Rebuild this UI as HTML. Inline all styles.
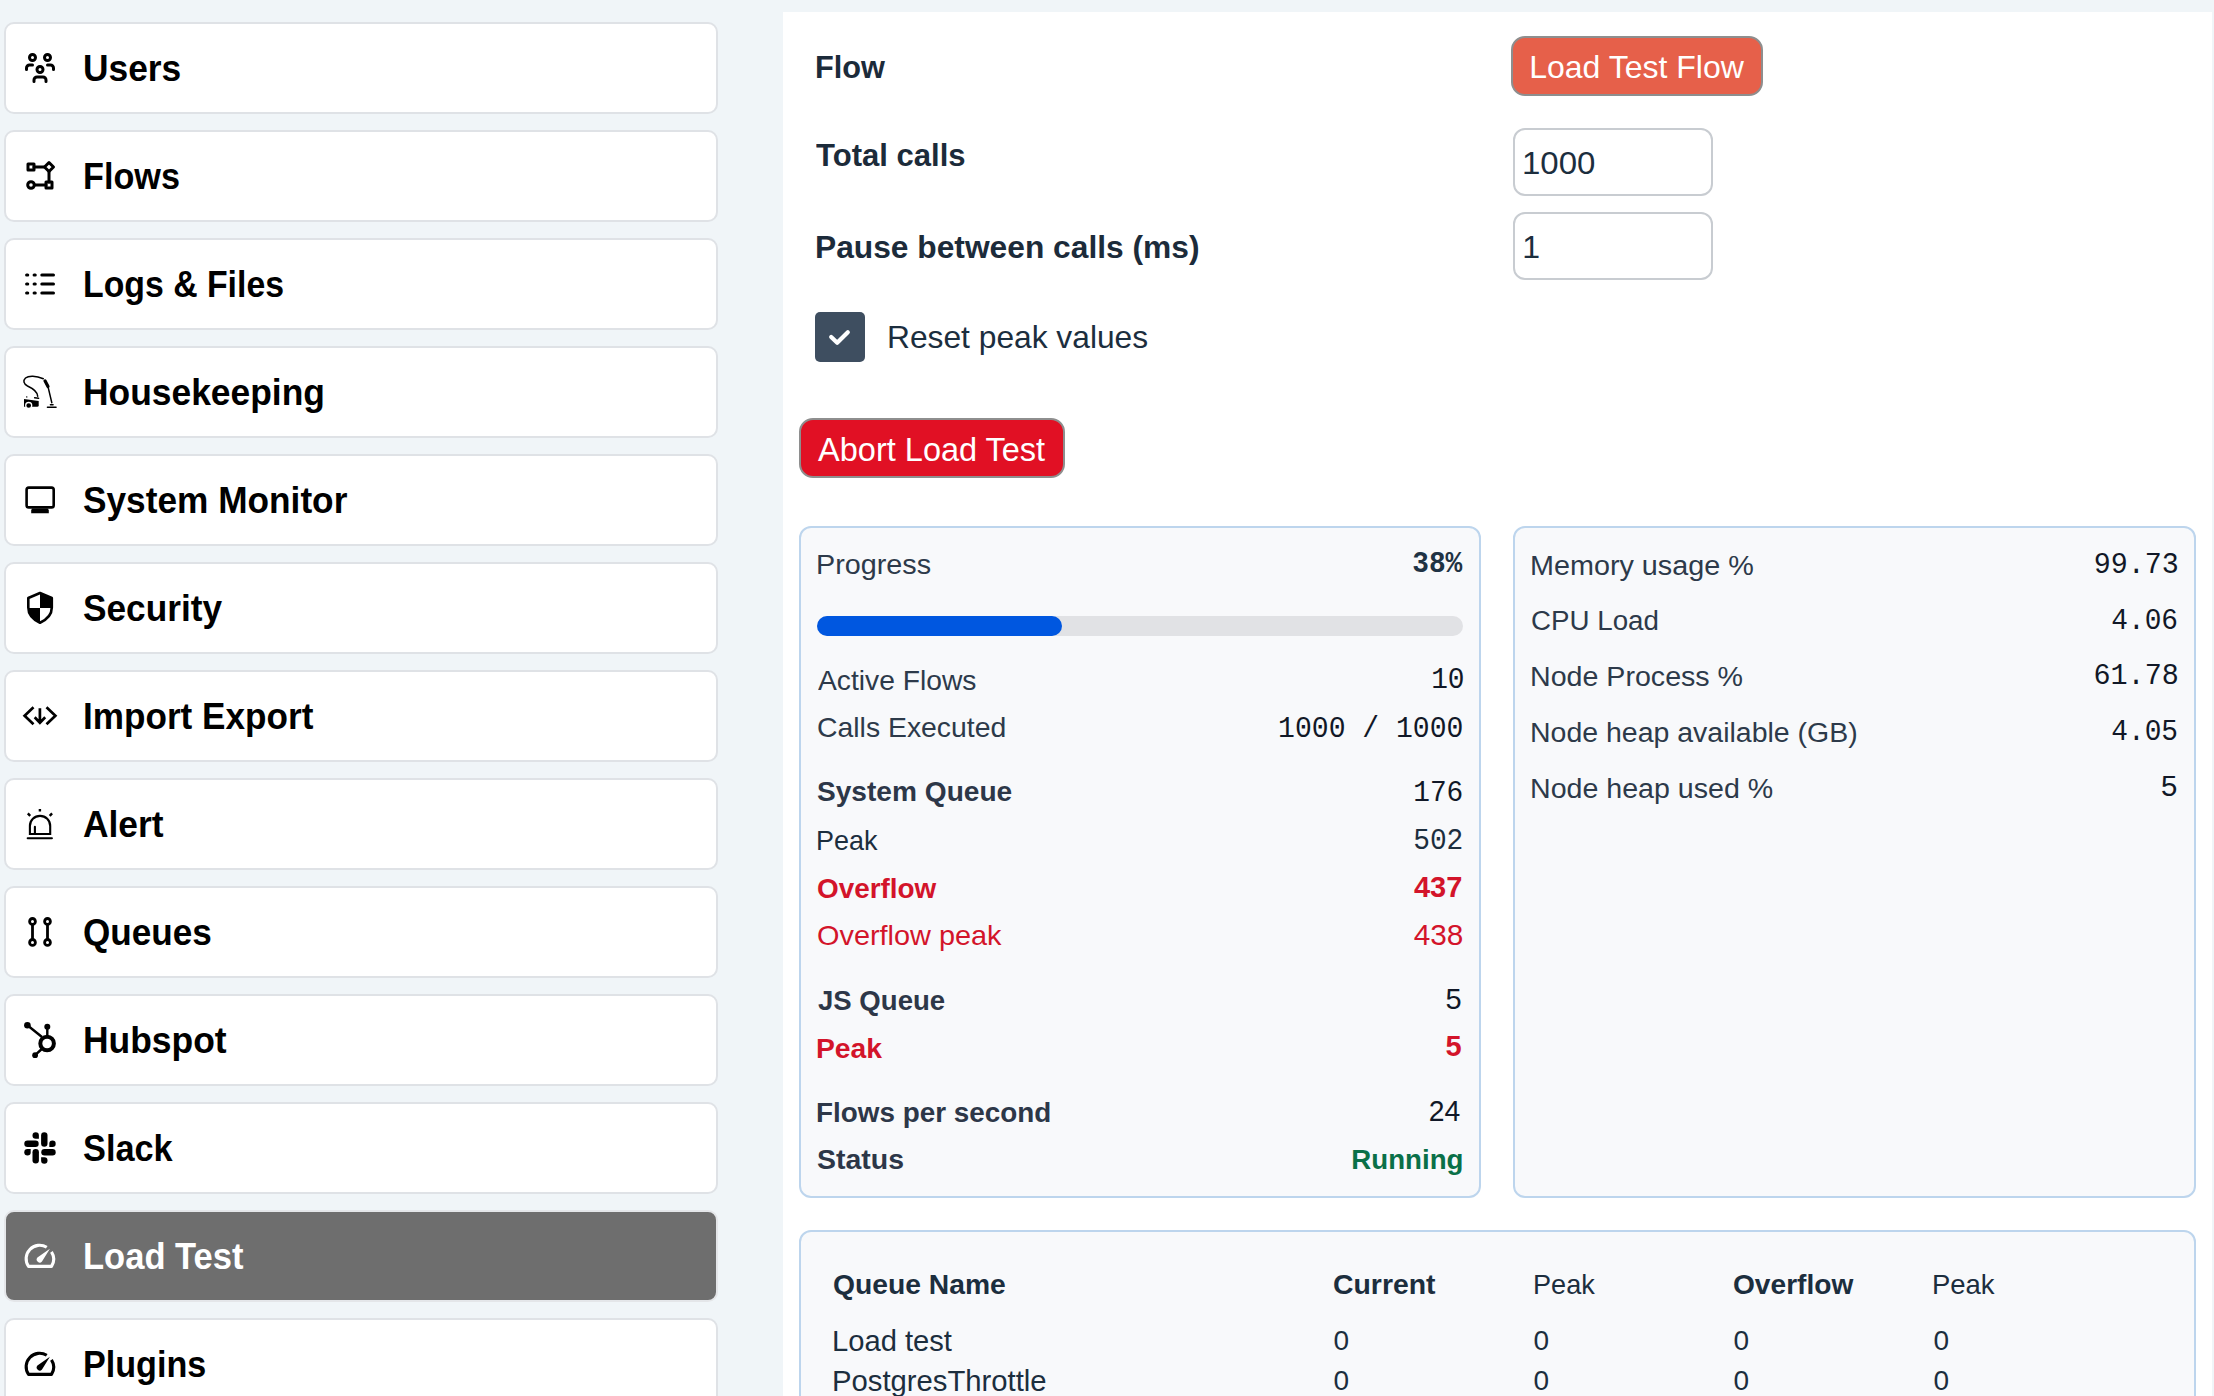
<!DOCTYPE html>
<html><head><meta charset="utf-8">
<style>
*{box-sizing:border-box;margin:0;padding:0}
html,body{width:2214px;height:1396px;overflow:hidden;background:#f0f5f8;font-family:"Liberation Sans",sans-serif}
.card{position:absolute;left:4px;width:714px;height:92px;background:#fff;border:2px solid #dfe2e6;border-radius:10px}
.card.active{background:#6e6e6e;border-color:#e4e6e9}
.card svg{position:absolute;left:10px;top:20px;width:48px;height:48px}
.card .t{position:absolute;left:77px;top:27px;height:36px;line-height:36px;font-size:36px;transform-origin:0 0;font-weight:bold;color:#000;white-space:nowrap}
.card.active .t{color:#fff}
.main{position:absolute;left:783px;top:12px;width:1429px;height:1384px;background:#fff}
.a{position:absolute;white-space:nowrap}
</style></head><body>
<!-- SIDEBAR -->
<div class="card" style="top:22px"><svg viewBox="0 0 48 48"><g fill="none" stroke="#000" stroke-width="3" stroke-linecap="round" stroke-linejoin="round"><circle cx="24" cy="25.5" r="3"/><path d="M18 37.5v-1.5a3 3 0 0 1 3-3h6a3 3 0 0 1 3 3v1.5"/><circle cx="31.5" cy="13.5" r="3"/><path d="M31.5 21h3a3 3 0 0 1 3 3v1.5"/><circle cx="16.5" cy="13.5" r="3"/><path d="M10.5 25.5v-1.5a3 3 0 0 1 3-3h3"/></g></svg><div class="t" style="transform:scaleX(0.982)">Users</div></div>
<div class="card" style="top:130px"><svg viewBox="0 0 48 48"><g transform="translate(6 6) scale(1.5)" fill="none" stroke="#000" stroke-width="2" stroke-linecap="round" stroke-linejoin="round"><rect x="4" y="4" width="4" height="4"/><path d="M18 3l3 3l-3 3l-3-3z"/><circle cx="6" cy="18" r="2.2"/><rect x="16" y="16" width="4" height="4"/><path d="M8 6h7M18 9v7M8.2 18h7.8"/></g></svg><div class="t" style="transform:scaleX(0.950)">Flows</div></div>
<div class="card" style="top:238px"><svg viewBox="0 0 48 48"><g transform="translate(6 6) scale(1.5)" fill="none" stroke="#000" stroke-width="2" stroke-linecap="round"><path d="M3.05 6h.8M8.05 6h.8M13.2 6H21M3.05 12h.8M8.05 12h.8M13.2 12H21M3.05 18h.8M8.05 18h.8M13.2 18H21"/></g></svg><div class="t" style="transform:scaleX(0.939)">Logs &amp; Files</div></div>
<div class="card" style="top:346px"><svg viewBox="0 0 48 48"><g fill="none" stroke="#000" stroke-linecap="round" stroke-linejoin="round"><path d="M21.7 28.2C21.5 24 18 21 11.5 18C7.5 16 6.8 12.5 9.5 10C12.5 7.5 20 7.5 27.3 10.8" stroke-width="1.5"/><path d="M29 12.8L32 18.6" stroke-width="3.2"/><path d="M32.4 20.3L35.8 34.7" stroke-width="1.5"/><path d="M34.4 36.8h2.7M31.4 39.2h8.7" stroke-width="1.4"/><path d="M10.7 28.9h.1M18.6 29.8L22.6 30.3" stroke-width="1.4"/></g><path d="M8 31L22.7 33V37.3Q22.7 38.8 21.2 38.8H8Z" fill="#000"/><circle cx="12.7" cy="37.5" r="3" fill="#000" stroke="#fff" stroke-width="1.3"/></svg><div class="t" style="transform:scaleX(0.983)">Housekeeping</div></div>
<div class="card" style="top:454px"><svg viewBox="0 0 48 48"><rect x="10.6" y="11.6" width="27.1" height="19.8" rx="2.2" fill="none" stroke="#000" stroke-width="2.6"/><path d="M16.2 32.6H31.6L32.8 34V37.3H15.2V34Z" fill="#000"/></svg><div class="t" style="transform:scaleX(0.979)">System Monitor</div></div>
<div class="card" style="top:562px"><svg viewBox="0 0 48 48"><path d="M24 9L12.3 14V23.5C12.3 30 17 35.5 24 38.7C31 35.5 35.8 30 35.8 23.5V14Z" fill="none" stroke="#000" stroke-width="2.6" stroke-linejoin="round"/><path d="M24 9L35.8 14V23.9H24Z M12.3 23.9H24V38.7C17 35.5 12.3 30 12.3 23.9Z" fill="#000"/></svg><div class="t" style="transform:scaleX(0.979)">Security</div></div>
<div class="card" style="top:670px"><svg viewBox="0 0 48 48"><g fill="none" stroke="#000" stroke-width="2.7" stroke-linejoin="miter"><path d="M17.5 15.3L8.6 23.7L17.5 32.2M30.5 15.3L39.4 23.7L30.5 32.2"/><path d="M23.9 16.2V30.5M18.7 25.3L23.9 30.8L29.2 25.3"/></g></svg><div class="t" style="transform:scaleX(0.976)">Import Export</div></div>
<div class="card" style="top:778px"><svg viewBox="0 0 48 48"><g fill="none" stroke="#000" stroke-width="2.1"><path d="M13.9 34V26A10.15 10.15 0 0 1 34.2 26V34Z"/><path d="M18.9 26.7V34M11.7 38.3H35.9" stroke-linecap="round"/><path d="M23.9 8.9V11.5M11.8 13.4L14.2 15.8M36.1 13.4L33.7 15.8" stroke-width="2.4"/></g></svg><div class="t" style="transform:scaleX(0.982)">Alert</div></div>
<div class="card" style="top:886px"><svg viewBox="0 0 48 48"><g fill="none" stroke="#000" stroke-width="2.8"><circle cx="16.5" cy="13.4" r="2.9"/><circle cx="16.5" cy="34.4" r="2.9"/><circle cx="31.5" cy="13.4" r="2.9"/><circle cx="31.5" cy="34.4" r="2.9"/><path d="M16.5 16.3V31.5M31.5 16.3V31.5"/></g></svg><div class="t" style="transform:scaleX(0.976)">Queues</div></div>
<div class="card" style="top:994px"><svg viewBox="0 0 48 48"><g fill="#000"><circle cx="31.1" cy="27.5" r="6.8" fill="none" stroke="#000" stroke-width="4"/><circle cx="31.3" cy="10.8" r="3"/><circle cx="11.4" cy="9.3" r="3.3"/><circle cx="19.1" cy="39.2" r="2.9"/><path d="M31.3 11V21M11.4 9.3L26 21M19.1 39.2L25.8 33" stroke="#000" stroke-width="2.4"/></g></svg><div class="t" style="transform:scaleX(0.984)">Hubspot</div></div>
<div class="card" style="top:1102px"><svg viewBox="0 0 48 48"><g fill="#000"><rect x="25.1" y="8.3" width="6.4" height="14.4" rx="3.2"/><rect x="8.3" y="16.5" width="14.4" height="6.4" rx="3.2"/><rect x="16.5" y="25.1" width="6.4" height="14.4" rx="3.2"/><rect x="25.3" y="25.1" width="14.4" height="6.4" rx="3.2"/><path d="M22.9 14.7H19.7A3.2 3.2 0 1 1 22.9 11.5Z"/><path d="M33.3 22.9V19.7A3.2 3.2 0 1 1 36.5 22.9Z"/><path d="M14.7 25.1V28.3A3.2 3.2 0 1 1 11.5 25.1Z"/><path d="M25.1 33.3H28.3A3.2 3.2 0 1 1 25.1 36.5Z"/></g></svg><div class="t" style="transform:scaleX(0.953)">Slack</div></div>
<div class="card active" style="top:1210px"><svg viewBox="0 0 48 48"><g fill="none" stroke="#fff" stroke-width="3.1" stroke-linejoin="round"><path d="M30.75 15.3A13.5 13.5 0 0 0 12.5 34.4H35.5A13.5 13.5 0 0 0 35.45 19.85"/></g><path d="M21.4 25.6L33.9 16.8L26 29.4A2.8 2.8 0 0 1 21.4 25.6Z" fill="#fff"/></svg><div class="t" style="transform:scaleX(0.959)">Load Test</div></div>
<div class="card" style="top:1318px"><svg viewBox="0 0 48 48"><g fill="none" stroke="#000" stroke-width="3.1" stroke-linejoin="round"><path d="M30.75 15.3A13.5 13.5 0 0 0 12.5 34.4H35.5A13.5 13.5 0 0 0 35.45 19.85"/></g><path d="M21.4 25.6L33.9 16.8L26 29.4A2.8 2.8 0 0 1 21.4 25.6Z" fill="#000"/></svg><div class="t" style="transform:scaleX(0.948)">Plugins</div></div>

<!-- MAIN -->
<div class="main"></div>
<div class="a" style="left:815.3px;top:52px;font:bold 31.5px/31.5px 'Liberation Sans',sans-serif;color:#1c2b3a;transform:scaleX(0.9744);transform-origin:0 0">Flow</div>
<div class="a" style="left:816.1px;top:140px;font:bold 31.5px/31.5px 'Liberation Sans',sans-serif;color:#1c2b3a;transform:scaleX(0.9861);transform-origin:0 0">Total calls</div>
<div class="a" style="left:815.0px;top:232px;font:bold 31.5px/31.5px 'Liberation Sans',sans-serif;color:#1c2b3a;transform:scaleX(1.0075);transform-origin:0 0">Pause between calls (ms)</div>
<div class="a" style="left:1511px;top:36px;width:252px;height:60px;background:#e6604a;border:2px solid #8e8e8e;border-radius:14px;box-sizing:border-box"></div>
<div class="a" style="left:1529.2px;top:51px;font:32px/32px 'Liberation Sans',sans-serif;color:#fff">Load Test Flow</div>
<div class="a" style="left:1513px;top:128px;width:200px;height:68px;background:#fff;border:2px solid #c8ccd1;border-radius:12px;box-sizing:border-box"></div>
<div class="a" style="left:1522.2px;top:147px;font:32px/32px 'Liberation Sans',sans-serif;color:#1c2e3e;transform:scaleX(1.0310);transform-origin:0 0">1000</div>
<div class="a" style="left:1513px;top:212px;width:200px;height:68px;background:#fff;border:2px solid #c8ccd1;border-radius:12px;box-sizing:border-box"></div>
<div class="a" style="left:1522.2px;top:231px;font:32px/32px 'Liberation Sans',sans-serif;color:#1c2e3e">1</div>
<div class="a" style="left:815px;top:312px;width:50px;height:50px;background:#3e4e60;border-radius:5px"></div>
<svg class="a" style="left:815px;top:312px" width="50" height="50" viewBox="0 0 50 50"><path d="M16.2 25L22.2 30.8L32.8 20.2" fill="none" stroke="#fff" stroke-width="4.2" stroke-linecap="round" stroke-linejoin="round"/></svg>
<div class="a" style="left:887.4px;top:321px;font:32px/32px 'Liberation Sans',sans-serif;color:#1c2e3e;transform:scaleX(0.9918);transform-origin:0 0">Reset peak values</div>
<div class="a" style="left:799px;top:418px;width:266px;height:60px;background:#e11024;border:2px solid #8e8e8e;border-radius:14px;box-sizing:border-box"></div>
<div class="a" style="left:818.1px;top:434px;font:32.5px/32.5px 'Liberation Sans',sans-serif;color:#fff">Abort Load Test</div>
<div class="a" style="left:799px;top:526px;width:682px;height:672px;background:#f8f9fb;border:2px solid #bdd5ed;border-radius:12px;box-sizing:border-box"></div>
<div class="a" style="left:1513px;top:526px;width:683px;height:672px;background:#f8f9fb;border:2px solid #bdd5ed;border-radius:12px;box-sizing:border-box"></div>
<div class="a" style="left:799px;top:1230px;width:1397px;height:270px;background:#f8f9fb;border:2px solid #bdd5ed;border-radius:12px;box-sizing:border-box"></div>
<div class="a" style="left:816.1px;top:551px;font:28px/28px 'Liberation Sans',sans-serif;color:#2d3a4a;transform:scaleX(1.0275);transform-origin:0 0">Progress</div>
<div class="a" style="right:751.9px;top:550px;font:bold 29.6px/29.6px 'Liberation Mono',monospace;color:#1f3344;transform:scaleX(0.9400);transform-origin:100% 0">38%</div>
<div class="a" style="left:817px;top:616px;width:646px;height:20px;background:#e1e2e5;border-radius:10px"></div>
<div class="a" style="left:817px;top:616px;width:245px;height:20px;background:#0057e0;border-radius:10px"></div>
<div class="a" style="left:818.1px;top:667px;font:28px/28px 'Liberation Sans',sans-serif;color:#2d3a4a;transform:scaleX(1.0085);transform-origin:0 0">Active Flows</div>
<div class="a" style="right:749.5px;top:666px;font:29.6px/29.6px 'Liberation Mono',monospace;color:#111827;transform:scaleX(0.9400);transform-origin:100% 0">10</div>
<div class="a" style="left:817.1px;top:714px;font:28px/28px 'Liberation Sans',sans-serif;color:#2d3a4a;transform:scaleX(1.0136);transform-origin:0 0">Calls Executed</div>
<div class="a" style="right:750.5px;top:715px;font:29.6px/29.6px 'Liberation Mono',monospace;color:#111827;transform:scaleX(0.9482);transform-origin:100% 0">1000 / 1000</div>
<div class="a" style="left:817.1px;top:778px;font:bold 27.5px/27.5px 'Liberation Sans',sans-serif;color:#2d3748;transform:scaleX(1.0218);transform-origin:0 0">System Queue</div>
<div class="a" style="right:750.8px;top:779px;font:29.6px/29.6px 'Liberation Mono',monospace;color:#111827;transform:scaleX(0.9400);transform-origin:100% 0">176</div>
<div class="a" style="left:816.1px;top:827px;font:28px/28px 'Liberation Sans',sans-serif;color:#1c2e3e;transform:scaleX(0.9630);transform-origin:0 0">Peak</div>
<div class="a" style="right:750.8px;top:827px;font:29.6px/29.6px 'Liberation Mono',monospace;color:#1c2e3e;transform:scaleX(0.9400);transform-origin:100% 0">502</div>
<div class="a" style="left:817.1px;top:875px;font:bold 27.5px/27.5px 'Liberation Sans',sans-serif;color:#d3142a;transform:scaleX(1.0138);transform-origin:0 0">Overflow</div>
<div class="a" style="right:751.7px;top:873px;font:bold 29px/29px 'Liberation Sans',sans-serif;color:#d3142a">437</div>
<div class="a" style="left:817.1px;top:922px;font:28px/28px 'Liberation Sans',sans-serif;color:#d3142a;transform:scaleX(1.0309);transform-origin:0 0">Overflow peak</div>
<div class="a" style="right:751.0px;top:921px;font:29px/29px 'Liberation Sans',sans-serif;color:#d3142a;transform:scaleX(1.0263);transform-origin:100% 0">438</div>
<div class="a" style="left:818.3px;top:987px;font:bold 27.5px/27.5px 'Liberation Sans',sans-serif;color:#2d3748;transform:scaleX(1.0023);transform-origin:0 0">JS Queue</div>
<div class="a" style="right:752.4px;top:985px;font:29px/29px 'Liberation Sans',sans-serif;color:#111827">5</div>
<div class="a" style="left:816.1px;top:1035px;font:bold 27.5px/27.5px 'Liberation Sans',sans-serif;color:#d3142a;transform:scaleX(1.0290);transform-origin:0 0">Peak</div>
<div class="a" style="right:752.4px;top:1032px;font:bold 29px/29px 'Liberation Sans',sans-serif;color:#d3142a">5</div>
<div class="a" style="left:816.1px;top:1099px;font:bold 27.5px/27.5px 'Liberation Sans',sans-serif;color:#2d3748;transform:scaleX(1.0131);transform-origin:0 0">Flows per second</div>
<div class="a" style="right:753.4px;top:1097px;font:29px/29px 'Liberation Sans',sans-serif;color:#111827;transform:scaleX(0.9769);transform-origin:100% 0">24</div>
<div class="a" style="left:817.1px;top:1146px;font:bold 27.5px/27.5px 'Liberation Sans',sans-serif;color:#2d3748;transform:scaleX(1.0355);transform-origin:0 0">Status</div>
<div class="a" style="right:750.2px;top:1146px;font:bold 27.5px/27.5px 'Liberation Sans',sans-serif;color:#0a7048;transform:scaleX(1.0058);transform-origin:100% 0">Running</div>
<div class="a" style="left:1530.2px;top:551px;font:28.4px/28.4px 'Liberation Sans',sans-serif;color:#2d3a4a;transform:scaleX(1.0129);transform-origin:0 0">Memory usage %</div>
<div class="a" style="left:1531.2px;top:606px;font:28.4px/28.4px 'Liberation Sans',sans-serif;color:#2d3a4a;transform:scaleX(0.9762);transform-origin:0 0">CPU Load</div>
<div class="a" style="left:1530.2px;top:662px;font:28.4px/28.4px 'Liberation Sans',sans-serif;color:#2d3a4a;transform:scaleX(1.0074);transform-origin:0 0">Node Process %</div>
<div class="a" style="left:1530.2px;top:718px;font:28.4px/28.4px 'Liberation Sans',sans-serif;color:#2d3a4a;transform:scaleX(1.0031);transform-origin:0 0">Node heap available (GB)</div>
<div class="a" style="left:1530.2px;top:774px;font:28.4px/28.4px 'Liberation Sans',sans-serif;color:#2d3a4a;transform:scaleX(1.0069);transform-origin:0 0">Node heap used %</div>
<div class="a" style="right:35.1px;top:551px;font:29.6px/29.6px 'Liberation Mono',monospace;color:#111827;transform:scaleX(0.9579);transform-origin:100% 0">99.73</div>
<div class="a" style="right:36.1px;top:607px;font:29.6px/29.6px 'Liberation Mono',monospace;color:#111827;transform:scaleX(0.9400);transform-origin:100% 0">4.06</div>
<div class="a" style="right:35.1px;top:662px;font:29.6px/29.6px 'Liberation Mono',monospace;color:#111827;transform:scaleX(0.9608);transform-origin:100% 0">61.78</div>
<div class="a" style="right:36.1px;top:718px;font:29.6px/29.6px 'Liberation Mono',monospace;color:#111827;transform:scaleX(0.9400);transform-origin:100% 0">4.05</div>
<div class="a" style="right:36.1px;top:774px;font:29.6px/29.6px 'Liberation Mono',monospace;color:#111827">5</div>
<div class="a" style="left:833.4px;top:1271px;font:bold 28px/28px 'Liberation Sans',sans-serif;color:#1c2e3e;transform:scaleX(1.0094);transform-origin:0 0">Queue Name</div>
<div class="a" style="left:1333.4px;top:1271px;font:bold 28px/28px 'Liberation Sans',sans-serif;color:#1c2e3e;transform:scaleX(1.0140);transform-origin:0 0">Current</div>
<div class="a" style="left:1532.8px;top:1271px;font:28px/28px 'Liberation Sans',sans-serif;color:#1c2e3e;transform:scaleX(0.9677);transform-origin:0 0">Peak</div>
<div class="a" style="left:1733.4px;top:1271px;font:bold 28px/28px 'Liberation Sans',sans-serif;color:#1c2e3e;transform:scaleX(1.0043);transform-origin:0 0">Overflow</div>
<div class="a" style="left:1932.0px;top:1271px;font:28px/28px 'Liberation Sans',sans-serif;color:#1c2e3e;transform:scaleX(0.9810);transform-origin:0 0">Peak</div>
<div class="a" style="left:832.4px;top:1327px;font:28.6px/28.6px 'Liberation Sans',sans-serif;color:#1c2e3e;transform:scaleX(1.0198);transform-origin:0 0">Load test</div>
<div class="a" style="left:832.4px;top:1367px;font:28.6px/28.6px 'Liberation Sans',sans-serif;color:#1c2e3e;transform:scaleX(1.0231);transform-origin:0 0">PostgresThrottle</div>
<div class="a" style="left:1333.4px;top:1327px;font:28px/28px 'Liberation Sans',sans-serif;color:#1c2e3e">0</div>
<div class="a" style="left:1533.4px;top:1327px;font:28px/28px 'Liberation Sans',sans-serif;color:#1c2e3e">0</div>
<div class="a" style="left:1733.4px;top:1327px;font:28px/28px 'Liberation Sans',sans-serif;color:#1c2e3e">0</div>
<div class="a" style="left:1933.4px;top:1327px;font:28px/28px 'Liberation Sans',sans-serif;color:#1c2e3e">0</div>
<div class="a" style="left:1333.4px;top:1367px;font:28px/28px 'Liberation Sans',sans-serif;color:#1c2e3e">0</div>
<div class="a" style="left:1533.4px;top:1367px;font:28px/28px 'Liberation Sans',sans-serif;color:#1c2e3e">0</div>
<div class="a" style="left:1733.4px;top:1367px;font:28px/28px 'Liberation Sans',sans-serif;color:#1c2e3e">0</div>
<div class="a" style="left:1933.4px;top:1367px;font:28px/28px 'Liberation Sans',sans-serif;color:#1c2e3e">0</div>
</body></html>
